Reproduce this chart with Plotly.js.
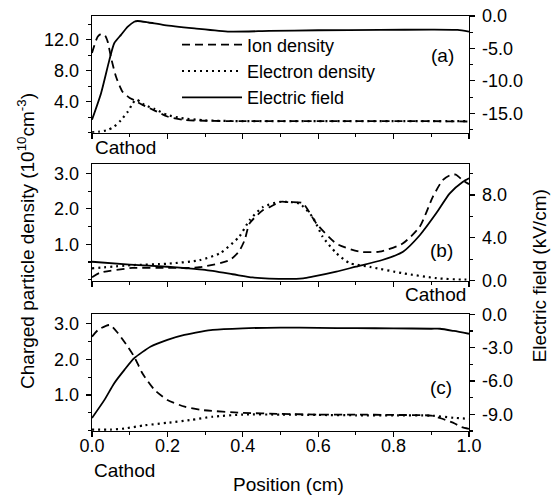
<!DOCTYPE html>
<html><head><meta charset="utf-8">
<script src="https://cdn.plot.ly/plotly-3.0.1.min.js"></script>
<style>html,body{margin:0;padding:0;background:#fff}</style>
</head><body><div id="chart" style="width:551px;height:497px"></div>
<script>
// ---------- Panel (a) ----------
const ionA_x  = [0, 0.015, 0.024, 0.035, 0.042, 0.05, 0.064, 0.081, 0.1, 0.112, 0.134, 0.165, 0.2, 0.245, 0.3, 0.4, 0.5, 0.6, 0.7, 0.8, 0.9, 1.0];
const ionA    = [10.3, 12.4, 12.75, 12.5, 11.7, 9.8, 7.2, 5.3, 4.5, 4.2, 3.6, 2.9, 2.1, 1.65, 1.55, 1.5, 1.5, 1.5, 1.5, 1.5, 1.5, 1.45];
const elecA_x = [0, 0.02, 0.042, 0.059, 0.077, 0.095, 0.108, 0.117, 0.128, 0.139, 0.165, 0.2, 0.236, 0.3, 0.4, 0.5, 0.6, 0.7, 0.8, 0.9, 1.0];
const elecA   = [0.05, 0.15, 0.36, 0.8, 1.65, 2.72, 3.8, 4.3, 4.0, 3.6, 3.1, 2.3, 1.9, 1.6, 1.5, 1.5, 1.5, 1.5, 1.5, 1.5, 1.5];
const fieldA_x = [0, 0.024, 0.046, 0.059, 0.077, 0.095, 0.112, 0.121, 0.15, 0.192, 0.272, 0.365, 0.47, 0.6, 0.763, 0.9, 0.97, 1.0];
const fieldA   = [-16.0, -11.9, -6.8, -4.2, -2.9, -1.65, -0.88, -0.77, -1.0, -1.4, -1.9, -2.4, -2.3, -2.2, -2.15, -2.1, -2.15, -2.4];

// ---------- Panel (b) ----------
const ionB_x  = [0, 0.02, 0.107, 0.2, 0.285, 0.365, 0.39, 0.405, 0.418, 0.453, 0.471, 0.5, 0.524, 0.559, 0.595, 0.648, 0.71, 0.763, 0.824, 0.869, 0.904, 0.93, 0.949, 0.965, 0.984, 1.0];
const ionB    = [0.065, 0.19, 0.33, 0.33, 0.35, 0.55, 0.8, 1.12, 1.59, 1.96, 2.05, 2.2, 2.19, 2.16, 1.59, 1.02, 0.79, 0.79, 1.02, 1.49, 2.34, 2.81, 2.95, 2.97, 2.8, 2.7];
const elecB_x = [0, 0.107, 0.2, 0.285, 0.34, 0.39, 0.418, 0.453, 0.5, 0.55, 0.585, 0.612, 0.648, 0.683, 0.737, 0.825, 0.914, 0.98, 1.0];
const elecB   = [0.32, 0.41, 0.45, 0.55, 0.75, 1.21, 1.68, 2.05, 2.2, 2.15, 1.77, 1.21, 0.75, 0.47, 0.36, 0.18, 0.04, 0.0, 0.0];
const fieldB_x = [0, 0.1, 0.2, 0.25, 0.3, 0.373, 0.426, 0.47, 0.56, 0.585, 0.648, 0.70, 0.77, 0.825, 0.87, 0.913, 0.949, 0.984, 1.0];
const fieldB   = [1.77, 1.5, 1.3, 1.16, 1.0, 0.6, 0.3, 0.2, 0.22, 0.37, 0.84, 1.31, 1.93, 2.71, 4.27, 6.29, 8.16, 9.24, 9.56];

// ---------- Panel (c) ----------
const ionC_x  = [0, 0.016, 0.047, 0.069, 0.095, 0.112, 0.134, 0.166, 0.2, 0.246, 0.29, 0.4, 0.5, 0.6, 0.7, 0.8, 0.9, 0.927, 0.962, 0.98, 1.0];
const ionC    = [2.63, 2.82, 2.96, 2.73, 2.35, 2.07, 1.6, 1.14, 0.86, 0.67, 0.58, 0.5, 0.47, 0.45, 0.45, 0.44, 0.42, 0.34, 0.2, 0.1, 0.05];
const elecC_x = [0, 0.05, 0.086, 0.14, 0.2, 0.263, 0.32, 0.4, 0.5, 0.6, 0.7, 0.8, 0.9, 0.96, 1.0];
const elecC   = [0.03, 0.03, 0.06, 0.15, 0.22, 0.3, 0.39, 0.45, 0.45, 0.44, 0.43, 0.43, 0.42, 0.36, 0.33];
const fieldC_x = [0, 0.033, 0.059, 0.086, 0.112, 0.156, 0.2, 0.245, 0.29, 0.32, 0.4, 0.5, 0.6, 0.7, 0.8, 0.9, 0.923, 0.96, 1.0];
const fieldC   = [-9.33, -7.7, -6.2, -5.0, -3.95, -2.9, -2.3, -1.86, -1.56, -1.4, -1.26, -1.2, -1.22, -1.25, -1.26, -1.3, -1.3, -1.5, -1.75];

// ---------- Tick labels ----------
const xTickVals = [0, 0.2, 0.4, 0.6, 0.8, 1.0];
const xTickText = ["0.0", "0.2", "0.4", "0.6", "0.8", "1.0"];
const leftA_vals = [4, 8, 12];      const leftA_text = ["4.0", "8.0", "12.0"];
const leftBC_vals = [1, 2, 3];      const leftBC_text = ["1.0", "2.0", "3.0"];
const rightA_vals = [0, -5, -10, -15]; const rightA_text = ["0.0", "-5.0", "-10.0", "-15.0"];
const rightB_vals = [0, 4, 8];         const rightB_text = ["0.0", "4.0", "8.0"];
const rightC_vals = [0, -3, -6, -9];   const rightC_text = ["0.0", "-3.0", "-6.0", "-9.0"];
const seriesNames = ["Ion density", "Electron density", "Electric field"];

const FONT = "Liberation Sans, Arial, sans-serif";
const DASH = "8px,5px", DOT = "2px,4px";
const styles = [{dash: DASH, width: 1.8}, {dash: DOT, width: 2.2}, {dash: "solid", width: 1.8}];

function tr(x, y, xa, ya, k, legend) {
  return {x: x, y: y, xaxis: xa, yaxis: ya, type: "scatter", mode: "lines",
    name: seriesNames[k], showlegend: legend, line: Object.assign({color: "#000", shape: "spline", smoothing: 0.6}, styles[k]),
    hoverinfo: "skip"};
}

const data = [
  tr(ionA_x, ionA, "x", "y", 0, true),
  tr(elecA_x, elecA, "x", "y", 1, true),
  tr(fieldA_x, fieldA, "x", "y2", 2, true),
  tr(ionB_x, ionB, "x2", "y3", 0, false),
  tr(elecB_x, elecB, "x2", "y3", 1, false),
  tr(fieldB_x, fieldB, "x2", "y4", 2, false),
  tr(ionC_x, ionC, "x3", "y5", 0, false),
  tr(elecC_x, elecC, "x3", "y5", 1, false),
  tr(fieldC_x, fieldC, "x3", "y6", 2, false)
];

const tickFont = {family: FONT, size: 18, color: "#000"};
function xax(anchor, labels) {
  return {anchor: anchor, domain: [0, 1], range: [0, 1], showgrid: false, zeroline: false,
    showline: true, linecolor: "#000", linewidth: 1.4, mirror: true,
    ticks: "outside", ticklen: 5, tickwidth: 1.2, tickcolor: "#000",
    tickmode: "array", tickvals: xTickVals, ticktext: xTickText, showticklabels: labels,
    tickfont: tickFont, ticklabelstandoff: -7,
    minor: {ticks: "outside", ticklen: 3, tickwidth: 1.2, tickcolor: "#000", dtick: 0.1, tick0: 0, showgrid: false}};
}
function yax(anchor, domain, range, vals, text, mdt, side, overlay) {
  const a = {anchor: anchor, domain: domain, range: range, showgrid: false, zeroline: false,
    showline: true, linecolor: "#000", linewidth: 1.4, side: side,
    ticks: "outside", ticklen: 5, tickwidth: 1.2, tickcolor: "#000",
    tickmode: "array", tickvals: vals, ticktext: text, tickfont: tickFont, ticklabelstandoff: 3,
    minor: {ticks: "outside", ticklen: 3, tickwidth: 1.2, tickcolor: "#000", dtick: mdt, tick0: 0, showgrid: false}};
  if (overlay) a.overlaying = overlay;
  return a;
}
const dA = [0.7186, 1], dB = [0.3622, 0.6434], dC = [0, 0.2812];

function note(text, x, y, xa, ya, angle) {
  return {text: text, xref: "paper", yref: "paper", x: x, y: y, xanchor: xa, yanchor: ya,
    textangle: angle || 0, showarrow: false, font: {size: 19}};
}

const layout = {
  width: 551, height: 497,
  margin: {l: 92, r: 82, t: 16, b: 66},
  paper_bgcolor: "#fff", plot_bgcolor: "rgba(0,0,0,0)",
  font: {family: FONT, color: "#000"},
  showlegend: true,
  legend: {x: 0.2255, y: 0.975, xanchor: "left", yanchor: "top", bgcolor: "rgba(0,0,0,0)",
    font: {family: FONT, size: 18, color: "#000"}, itemwidth: 60, tracegroupgap: 0},
  xaxis: xax("y", false),
  xaxis2: xax("y3", false),
  xaxis3: xax("y5", true),
  yaxis:  yax("x", dA, [0, 15.07], leftA_vals, leftA_text, 2, "left"),
  yaxis2: yax("x", dA, [-18, 0], rightA_vals, rightA_text, 2.5, "right", "y"),
  yaxis3: yax("x2", dB, [-0.03, 3.27], leftBC_vals, leftBC_text, 0.5, "left"),
  yaxis4: yax("x2", dB, [0, 10.9], rightB_vals, rightB_text, 2, "right", "y3"),
  yaxis5: yax("x3", dC, [-0.01, 3.26], leftBC_vals, leftBC_text, 0.5, "left"),
  yaxis6: yax("x3", dC, [-10.5, 0], rightC_vals, rightC_text, 1.5, "right", "y5"),
  annotations: [
    note("Cathod", 0.003, 0.682, "left", "middle"),
    note("Cathod", 0.998, 0.330, "right", "middle"),
    note("Cathod", -0.001, -0.094, "left", "middle"),
    note("(a)", 0.931, 0.906, "center", "middle"),
    note("(b)", 0.927, 0.436, "center", "middle"),
    note("(c)", 0.927, 0.104, "center", "middle"),
    note("Position (cm)", 0.52, -0.130, "center", "middle"),
    note("Charged particle density (10<sup>10</sup>cm<sup>-3</sup>)", -0.175, 0.458, "center", "middle", -90),
    note("Electric field (kV/cm)", 1.186, 0.373, "center", "middle", -90)
  ]
};

Plotly.newPlot("chart", data, layout, {displayModeBar: false, staticPlot: true});
</script></body></html>
